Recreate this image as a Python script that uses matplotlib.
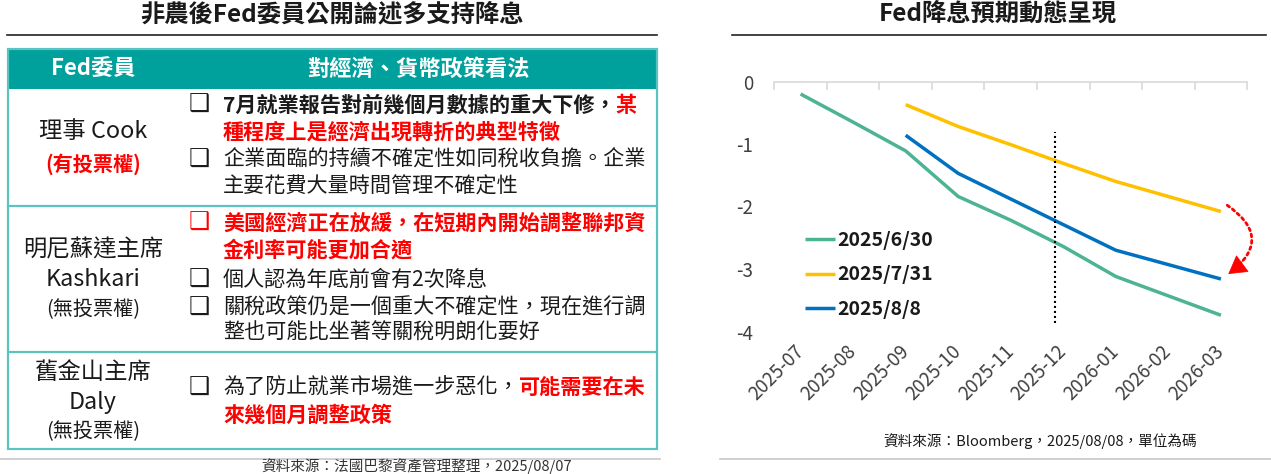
import numpy as np
import matplotlib
matplotlib.use('Agg')
import matplotlib.pyplot as plt
from matplotlib.patches import Rectangle, FancyArrowPatch

plt.rcParams['font.family'] = ['Noto Sans CJK TC', 'DejaVu Sans']
plt.rcParams['axes.unicode_minus'] = False

# ---- chart data (Bloomberg expected cumulative cuts, in 25bp units) ----
months = ['2025-07', '2025-08', '2025-09', '2025-10', '2025-11',
          '2025-12', '2026-01', '2026-02', '2026-03']
jun30 = [-0.20, -0.65, -1.11, -1.84, -2.22, -2.64, -3.12, -3.43, -3.74]
jul31 = [np.nan, np.nan, -0.37, -0.72, -1.01, -1.31, -1.60, -1.84, -2.08]
aug08 = [np.nan, np.nan, -0.86, -1.47, -1.88, -2.29, -2.70, -2.93, -3.16]
series_names = ['2025/6/30', '2025/7/31', '2025/8/8']
series_colors = ['#4DB395', '#FFC000', '#0070C0']
dec_meeting_x = 4.84
dec_meeting_span = (-0.80, -3.87)

# ---- table text ----
header = ['Fed委員', '對經濟、貨幣政策看法']
member_names = [['理事 Cook'], ['明尼蘇達主席', 'Kashkari'], ['舊金山主席', 'Daly']]
member_votes = ['(有投票權)', '(無投票權)', '(無投票權)']

BLACK = '#1a1a1a'
RED = '#FF0000'
TEAL = '#00A19D'
TEAL_LINE = '#5CC3C3'

# each bullet: (bullet colour, [lines]), each line a list of (text, colour, weight)
opinions = [
    [
        (BLACK, [[('7月就業報告對前幾個月數據的重大下修，', BLACK, 'bold'), ('某', RED, 'bold')],
                 [('種程度上是經濟出現轉折的典型特徵', RED, 'bold')]]),
        (BLACK, [[('企業面臨的持續不確定性如同稅收負擔。企業', BLACK, 'normal')],
                 [('主要花費大量時間管理不確定性', BLACK, 'normal')]]),
    ],
    [
        (RED, [[('美國經濟正在放緩，在短期內開始調整聯邦資', RED, 'bold')],
               [('金利率可能更加合適', RED, 'bold')]]),
        (BLACK, [[('個人認為年底前會有2次降息', BLACK, 'normal')]]),
        (BLACK, [[('關稅政策仍是一個重大不確定性，現在進行調', BLACK, 'medium')],
                 [('整也可能比坐著等關稅明朗化要好', BLACK, 'medium')]]),
    ],
    [
        (BLACK, [[('為了防止就業市場進一步惡化，', BLACK, 'medium'), ('可能需要在未', RED, 'bold')],
                 [('來幾個月調整政策', RED, 'bold')]]),
    ],
]
# line centre positions (px) for each row's bullet lines
opinion_y = [[[105, 132], [160, 187]],
             [[223, 250], [280], [308, 333]],
             [[388, 415]]]
name_y = [[132], [250, 280], [372, 402]]
vote_y = [164, 310, 432]

fig = plt.figure(figsize=(12.71, 4.74), dpi=100)
bg = fig.add_axes([0, 0, 1, 1])
bg.set_xlim(0, 1271)
bg.set_ylim(474, 0)
bg.axis('off')
renderer = fig.canvas.get_renderer()

# titles and rules
bg.text(332, 14, '非農後Fed委員公開論述多支持降息', fontsize=17.5, fontweight='bold',
        color=BLACK, ha='center', va='center')
bg.text(998, 14, 'Fed降息預期動態呈現', fontsize=17.5, fontweight='bold',
        color=BLACK, ha='center', va='center')
bg.plot([7, 657], [34.5, 34.5], color='#222222', lw=1.2)
bg.plot([732, 1266], [34.5, 34.5], color='#222222', lw=1.2)

# table
bg.add_patch(Rectangle((7.5, 49), 649.5, 39.5, facecolor=TEAL, edgecolor='none'))
bg.add_patch(Rectangle((7.5, 49), 649.5, 400, facecolor='none', edgecolor=TEAL_LINE, lw=1.6))
for yy in [206, 352]:
    bg.plot([7.5, 657], [yy, yy], color=TEAL_LINE, lw=1.6)
bg.text(93, 69, header[0], fontsize=16, fontweight='bold', color='white', ha='center', va='center')
bg.text(418, 69, header[1], fontsize=16, fontweight='bold', color='white', ha='center', va='center')

for names, ys, vote, vy in zip(member_names, name_y, member_votes, vote_y):
    for nm, yy in zip(names, ys):
        bg.text(93, yy, nm, fontsize=16.8, color=BLACK, ha='center', va='center')
    is_voter = vote == '(有投票權)'
    bg.text(93, vy, vote, fontsize=14.5, color=RED if is_voter else BLACK,
            fontweight='bold' if is_voter else 'normal', ha='center', va='center')

for row, row_y in zip(opinions, opinion_y):
    for (bcol, lines), ys in zip(row, row_y):
        bg.text(199, ys[0], '❑', fontsize=17, color=bcol, family='DejaVu Sans',
                ha='center', va='center')
        for runs, yy in zip(lines, ys):
            x = 223
            for txt, col, w in runs:
                t = bg.text(x, yy, txt, fontsize=15.2, color=col, fontweight=w,
                            ha='left', va='center')
                x += t.get_window_extent(renderer=renderer).width

bg.plot([0, 660], [458.5, 458.5], color='#c8c8c8', lw=1.2)
bg.text(417, 466, '資料來源：法國巴黎資產管理整理，2025/08/07', fontsize=10.5,
        color='#333333', ha='center', va='center')
bg.plot([720, 1271], [458.5, 458.5], color='#c8c8c8', lw=1.2)
bg.text(1040, 441, '資料來源：Bloomberg，2025/08/08，單位為碼', fontsize=10.5,
        color=BLACK, ha='center', va='center')

# ---- line chart ----
ax = fig.add_axes([774.3 / 1271, 1 - 331.5 / 474, 472.9 / 1271, 250 / 474])
ax.set_facecolor('none')
x = np.arange(len(months))
for vals, name, col in zip([jun30, jul31, aug08], series_names, series_colors):
    ax.plot(x, vals, color=col, lw=2.5, label=name, solid_capstyle='butt')

ax.vlines(dec_meeting_x, dec_meeting_span[1], dec_meeting_span[0], color='black',
          lw=1.5, linestyles=(0, (1, 1.4)))

# red dotted curved arrow: dotted body + solid head along the same arc
arc_start, arc_end, arc = (8.12, -1.98), (8.14, -3.08), 'arc3,rad=-0.7'
ax.add_patch(FancyArrowPatch(arc_start, arc_end, connectionstyle=arc, arrowstyle='-',
                             color='red', lw=2, linestyle=(0, (1, 1.3)),
                             shrinkA=0, shrinkB=6, clip_on=False))
ax.add_patch(FancyArrowPatch(arc_start, arc_end, connectionstyle=arc,
                             arrowstyle='-|>,head_length=0.6,head_width=0.35',
                             mutation_scale=20, color='red', lw=0.5,
                             shrinkA=40, shrinkB=0, clip_on=False))

ax.set_xlim(-0.5, len(months) - 0.5)
ax.set_ylim(-4, 0)
for side in ['left', 'right', 'bottom']:
    ax.spines[side].set_visible(False)
ax.spines['top'].set_color('#d9d9d9')
ax.spines['top'].set_linewidth(1.2)

ax.set_xticks(x)
ax.set_xticklabels(months, rotation=45, ha='right', va='center', rotation_mode='anchor',
                   fontsize=13.5, color='#404040')
ax.set_xticks(np.arange(len(months) + 1) - 0.5, minor=True)
ax.tick_params(axis='x', which='major', length=0, pad=12)
ax.tick_params(axis='x', which='minor', top=True, bottom=False, direction='in',
               length=6, width=1.2, color='#d9d9d9')
ax.set_yticks([0, -1, -2, -3, -4])
ax.set_yticklabels(['0', '-1', '-2', '-3', '-4'], fontsize=13.5, color='#404040')
ax.tick_params(axis='y', length=0, pad=15)

ax.legend(loc='upper left', bbox_to_anchor=(0.065, 0.403), frameon=False,
          prop={'size': 14, 'weight': 'bold'}, handlelength=1.55, handletextpad=0.1,
          labelspacing=0.8, borderpad=0, borderaxespad=0, labelcolor=BLACK)

fig.savefig('out.png', dpi=100)
